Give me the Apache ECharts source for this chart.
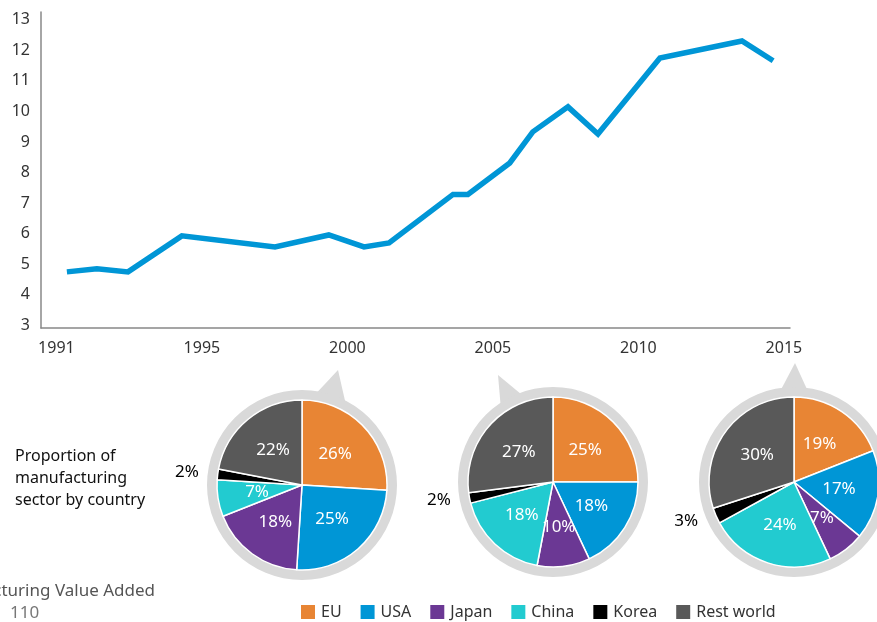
<!DOCTYPE html>
<html>
<head>
<meta charset="utf-8">
<script src="https://cdn.jsdelivr.net/npm/echarts@6/dist/echarts.min.js"></script>
<style>
  html, body { margin: 0; padding: 0; background: #fff; }
  #chart { width: 877px; height: 622px; }
</style>
</head>
<body>
<div id="chart"></div>
<script>
// line chart data (x = position on the year axis)
const years = [1990.36, 1991.39, 1992.46, 1994.31, 1997.51, 1999.36, 2000.57, 2001.43,
    2003.63, 2004.14, 2005.58, 2006.37, 2007.58, 2008.61, 2010.74, 2013.56, 2014.63];
const values = [4.74, 4.84, 4.74, 5.92, 5.56, 5.95, 5.56, 5.69,
    7.28, 7.28, 8.31, 9.33, 10.15, 9.26, 11.75, 12.31, 11.66];
const yTicks = [3, 4, 5, 6, 7, 8, 9, 10, 11, 12, 13];
const xTickYears = [1990, 1995, 2000, 2005, 2010, 2015];
const xTickLabels = ['1991', '1995', '2000', '2005', '2010', '2015'];

// pie data
const countries = ['EU', 'USA', 'Japan', 'China', 'Korea', 'Rest world'];
const countryColors = ['#e88534', '#0096d6', '#6b3894', '#22cbd0', '#000000', '#595959'];
const share2000 = [26, 25, 18, 7, 2, 22];
const share2005 = [25, 18, 10, 18, 2, 27];
const share2015 = [19, 17, 7, 24, 3, 30];

(function () {
    const my_echart = echarts.init(document.getElementById('chart'));
    const font = 'Noto Sans';
    const R = 85; // pie radius
    const ringColor = '#d9d9d9';

    // 每个饼图：中心 + 指向年份的小三角
    const pies = [
        { data: share2000, center: [302, 485], tip: [338, 370], base: [8, 29] },
        { data: share2005, center: [553, 482], tip: [498, 375], base: [-35, -19] },
        { data: share2015, center: [794, 482], tip: [795, 363], base: [-9, 9] }
    ];

    function ringPoint(c, deg, r) {
        const a = deg * Math.PI / 180;
        return [c[0] + r * Math.sin(a), c[1] - r * Math.cos(a)];
    }

    const series = [{
        type: 'line',
        data: years.map((y, i) => [y, values[i]]),
        showSymbol: false,
        lineStyle: { color: '#0096d6', width: 5.5, join: 'miter' },
        itemStyle: { color: '#0096d6' },
        silent: true
    }];

    pies.forEach(function (p) {
        // 灰色外环
        series.push({
            type: 'pie',
            center: p.center,
            radius: [R, R + 10],
            silent: true,
            label: { show: false },
            labelLine: { show: false },
            itemStyle: { color: ringColor },
            data: [{ value: 1 }]
        });
        series.push({
            type: 'pie',
            center: p.center,
            radius: R,
            startAngle: 90,
            clockwise: true,
            avoidLabelOverlap: false,
            silent: true,
            itemStyle: { borderColor: '#fff', borderWidth: 1.5 },
            label: {
                position: 'inside',
                formatter: '{c}%',
                color: '#fff',
                fontFamily: font,
                fontSize: 17
            },
            labelLine: { show: false, length: 14, length2: 0 },
            data: countries.map(function (name, i) {
                const item = { name: name, value: p.data[i], itemStyle: { color: countryColors[i] } };
                if (name === 'Korea') {
                    item.label = { position: 'outside', color: '#000' };
                }
                return item;
            })
        });
    });

    const graphics = pies.map(function (p) {
        return {
            type: 'polygon',
            silent: true,
            shape: { points: [p.tip, ringPoint(p.center, p.base[0], R + 6), ringPoint(p.center, p.base[1], R + 6)] },
            style: { fill: ringColor }
        };
    });
    graphics.push({
        type: 'text',
        left: 15,
        top: 445,
        style: {
            text: 'Proportion of\nmanufacturing\nsector by country',
            fontFamily: font,
            fontSize: 16,
            lineHeight: 22,
            fill: '#111'
        }
    });
    graphics.push({
        type: 'text',
        x: 155,
        y: 583,
        style: {
            text: 'Manufacturing Value Added',
            textAlign: 'right',
            fontFamily: font,
            fontSize: 17,
            fill: '#555'
        }
    });
    graphics.push({
        type: 'text',
        x: 10,
        y: 605,
        style: { text: '110', fontFamily: font, fontSize: 17, fill: '#777' }
    });

    let option = {
        animation: false,
        grid: { left: 41, top: 12, right: 87, bottom: 294 },
        xAxis: {
            type: 'value',
            min: 1989.47,
            max: 2015.21,
            splitLine: { show: false },
            axisTick: { show: false },
            axisLine: { lineStyle: { color: '#888', width: 1.5 } },
            axisLabel: {
                customValues: xTickYears,
                formatter: function (v) { return xTickLabels[xTickYears.indexOf(v)]; },
                margin: 12,
                color: '#333',
                fontFamily: font,
                fontSize: 16
            }
        },
        yAxis: {
            type: 'value',
            min: 2.9,
            max: 13.26,
            splitLine: { show: false },
            axisTick: { show: false },
            axisLine: { show: true, lineStyle: { color: '#888', width: 1.5 } },
            axisLabel: {
                customValues: yTicks,
                margin: 11,
                color: '#333',
                fontFamily: font,
                fontSize: 16
            }
        },
        legend: {
            data: countries,
            left: 299,
            top: 603,
            padding: 0,
            icon: 'rect',
            itemWidth: 16,
            itemHeight: 16,
            itemGap: 17,
            selectedMode: false,
            textStyle: { color: '#333', fontFamily: font, fontSize: 16 }
        },
        graphic: graphics,
        series: series
    };
    my_echart.setOption(option);
    window.addEventListener('resize', function () {
        my_echart.resize();
    });
})();
</script>
</body>
</html>
